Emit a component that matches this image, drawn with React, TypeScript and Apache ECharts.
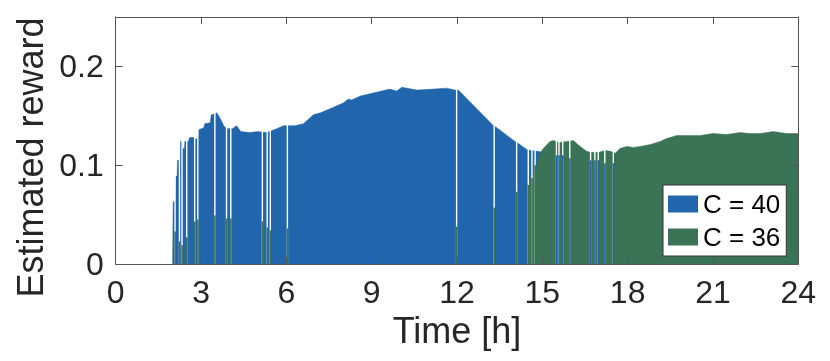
import React, { useEffect, useRef } from "react";
import * as echarts from "echarts";

// Envelope of the C = 40 (blue) area: [time in h, estimated reward]
const blueEnvelope: [number, number][] = [
  [2.0, 0], [2.02, 0.063], [2.1, 0.063], [2.11, 0.089], [2.16, 0.089], [2.17, 0.105],
  [2.24, 0.105], [2.25, 0.124], [2.33, 0.124], [2.34, 0.117], [2.42, 0.117], [2.43, 0.124],
  [2.55, 0.124], [2.6, 0.128], [2.77, 0.128], [2.8, 0.127], [2.88, 0.126], [2.92, 0.136],
  [3.1, 0.138], [3.13, 0.142], [3.32, 0.143], [3.36, 0.151], [3.5, 0.152], [3.55, 0.153],
  [3.62, 0.15], [3.7, 0.146], [3.8, 0.14], [3.9, 0.137], [4.1, 0.137], [4.25, 0.14],
  [4.4, 0.134], [4.7, 0.133], [5.0, 0.134], [5.3, 0.133], [5.5, 0.135], [5.66, 0.137],
  [5.9, 0.14], [6.3, 0.14], [6.6, 0.142], [6.95, 0.151], [7.2, 0.153], [7.6, 0.158],
  [8.0, 0.163], [8.18, 0.167], [8.3, 0.166], [8.6, 0.17], [9.2, 0.174], [9.64, 0.177],
  [9.88, 0.175], [10.06, 0.179], [10.58, 0.176], [11.17, 0.177], [11.64, 0.178], [11.93, 0.176],
  [12.05, 0.176], [13.28, 0.14], [13.4, 0.138], [14.04, 0.124], [14.16, 0.122], [14.45, 0.116],
  [14.6, 0.115], [14.85, 0.114], [15.0, 0.113], [15.02, 0],
];

// Envelope of the C = 36 (green) area
const greenEnvelope: [number, number][] = [
  [14.48, 0], [14.5, 0.08], [14.6, 0.085], [14.78, 0.097], [14.86, 0.107], [14.98, 0.115],
  [15.1, 0.119], [15.27, 0.124], [15.39, 0.125], [15.6, 0.123], [15.86, 0.124], [16.09, 0.125],
  [16.33, 0.119], [16.56, 0.114], [16.68, 0.113], [16.9, 0.113], [17.0, 0.113], [17.2, 0.115],
  [17.4, 0.114], [17.56, 0.112], [17.73, 0.117], [17.97, 0.119], [18.2, 0.118], [18.44, 0.119],
  [18.8, 0.121], [19.14, 0.124], [19.37, 0.127], [19.73, 0.13], [20.1, 0.13], [20.55, 0.13],
  [21.0, 0.132], [21.48, 0.131], [21.95, 0.133], [22.3, 0.132], [22.65, 0.132], [23.12, 0.134],
  [23.59, 0.132], [24.0, 0.132],
];

// Moments when C = 36 was used inside the C = 40 period, and its value there
const greenSwitchTimes = [2.09, 2.245, 2.335, 2.5, 2.78, 2.89, 3.49, 3.9, 4.05, 5.16, 5.33, 5.44, 6.04, 11.99, 13.31, 14.1, 14.51, 14.64, 14.75];
const greenSwitchValues = [0.033, 0.023, 0.019, 0.027, 0.043, 0.045, 0.049, 0.046, 0.046, 0.043, 0.037, 0.034, 0.036, 0.038, 0.057, 0.073, 0.08, 0.087, 0.1];

// Moments when C = 40 was used inside the C = 36 period, and its value there
const blueSwitchTimes = [15.5, 15.59, 15.72, 15.97, 16.7, 16.85, 16.97, 17.2, 17.5];
const blueSwitchValues = [0.11, 0.11, 0.11, 0.107, 0.105, 0.105, 0.105, 0.102, 0.102];

const seriesNames = ["C = 40", "C = 36"];

export default function App() {
  const ref = useRef<HTMLDivElement>(null);
  useEffect(() => {
    if (!ref.current) return;
    const chart = echarts.init(ref.current, null, { renderer: "svg" });
    const blue = "#2166ac";
    const green = "#3a7355";
    const axisColor = "#555555";
    const textColor = "#262626";
    const font = "'Liberation Sans', Arial, Helvetica, sans-serif";
    const gapCeiling = 0.2;
    const lineStyle = { color: axisColor, width: 1 };
    const tickStyle = { inside: true, length: 7, lineStyle };

    const allGapTimes = [...greenSwitchTimes, ...blueSwitchTimes];

    chart.setOption({
      animation: false,
      grid: { left: 115.7, right: 31.7, top: 17, bottom: 97, containLabel: false },
      xAxis: [
        {
          type: "value", min: 0, max: 24, interval: 3, position: "bottom",
          name: "Time [h]", nameLocation: "middle", nameGap: 47,
          nameTextStyle: { fontSize: 36, color: textColor, fontFamily: font },
          axisLine: { show: true, onZero: false, lineStyle },
          axisTick: tickStyle,
          axisLabel: { margin: 12, fontSize: 32, color: textColor, fontFamily: font },
          splitLine: { show: false }, z: 10,
        },
        {
          type: "value", min: 0, max: 24, interval: 3, position: "top",
          axisLine: { show: true, onZero: false, lineStyle },
          axisTick: tickStyle, axisLabel: { show: false }, splitLine: { show: false }, z: 10,
        },
      ],
      yAxis: [
        {
          type: "value", min: 0, max: 0.25, interval: 0.1, position: "left",
          name: "Estimated reward", nameLocation: "middle", nameGap: 66, nameRotate: 90,
          nameTextStyle: { fontSize: 36, color: textColor, fontFamily: font, padding: [0, 34, 0, 0] },
          axisLine: { show: true, onZero: false, lineStyle },
          axisTick: tickStyle,
          axisLabel: {
            margin: 12, fontSize: 32, color: textColor, fontFamily: font,
            formatter: (v: number) => (Math.abs(v * 10 - Math.round(v * 10)) < 1e-6 ? String(Math.round(v * 10) / 10) : ""),
          },
          splitLine: { show: false }, z: 10,
        },
        {
          type: "value", min: 0, max: 0.25, interval: 0.1, position: "right",
          axisLine: { show: true, onZero: false, lineStyle },
          axisTick: tickStyle, axisLabel: { show: false }, splitLine: { show: false }, z: 10,
        },
      ],
      legend: {
        orient: "vertical", left: 663, top: 185, padding: [6, 6, 6, 5], itemGap: 7,
        itemWidth: 30, itemHeight: 17, icon: "rect", selectedMode: false,
        backgroundColor: "#ffffff", borderColor: "#333333", borderWidth: 1, borderRadius: 0,
        textStyle: { fontSize: 26, color: "#000000", fontFamily: font },
        itemStyle: { borderWidth: 0 },
        data: seriesNames, z: 20,
      },
      series: [
        {
          name: seriesNames[0], type: "line", data: blueEnvelope, symbol: "none",
          lineStyle: { width: 0.5, color: blue }, itemStyle: { color: blue },
          areaStyle: { color: blue, opacity: 1 }, z: 2, silent: true,
        },
        {
          name: seriesNames[1], type: "line", data: greenEnvelope, symbol: "none",
          lineStyle: { width: 0.5, color: green }, itemStyle: { color: green },
          areaStyle: { color: green, opacity: 1 }, z: 3, silent: true,
        },
        {
          name: "switch gaps", type: "bar", data: allGapTimes.map((t) => [t, gapCeiling]),
          barWidth: 1.4, barGap: "-100%", itemStyle: { color: "#ffffff" }, z: 4, silent: true,
        },
        {
          name: "C = 36 switches", type: "bar",
          data: greenSwitchTimes.map((t, i) => [t, greenSwitchValues[i]]),
          barWidth: 1.6, barGap: "-100%", itemStyle: { color: green }, z: 5, silent: true,
        },
        {
          name: "C = 40 switches", type: "bar",
          data: blueSwitchTimes.map((t, i) => [t, blueSwitchValues[i]]),
          barWidth: 1.6, barGap: "-100%", itemStyle: { color: blue }, z: 6, silent: true,
        },
      ],
    });
    return () => chart.dispose();
  }, []);
  return <div ref={ref} style={{ position: "fixed", left: 0, top: 0, width: 830, height: 361 }} />;
}
